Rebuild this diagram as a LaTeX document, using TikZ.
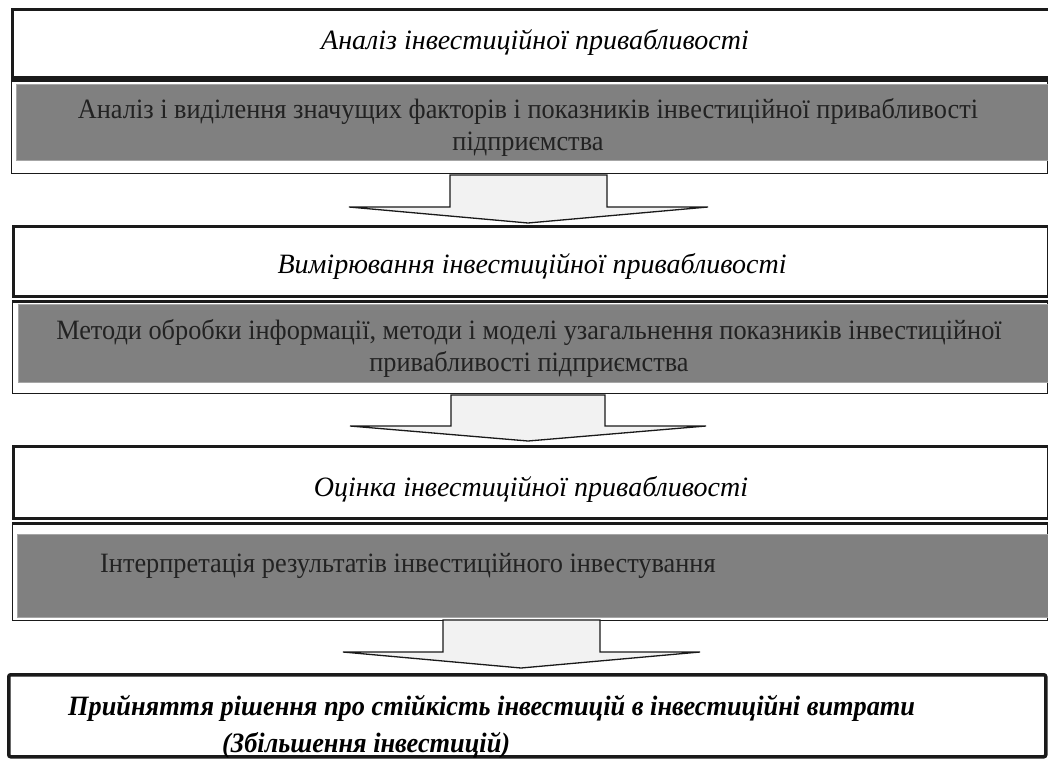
\documentclass[tikz,border=0pt]{standalone}
\usepackage{fontspec}
\setmainfont{Liberation Serif}
\newfontfamily\bodyfont[FakeStretch=0.94]{Liberation Serif}
\newfontfamily\titlefont[FakeStretch=1.0]{Liberation Serif}
\newfontfamily\finalfont[FakeStretch=0.94]{Liberation Serif}
\definecolor{frame}{HTML}{1A1A1A}
\definecolor{shade}{HTML}{808080}
\definecolor{arrowfill}{HTML}{F2F2F2}
\definecolor{bodytext}{HTML}{222222}
\tikzset{
  thickbox/.style={draw=frame, line width=3pt, fill=white},
  thinbox/.style={draw=frame, line width=1.3pt, fill=white},
  topline/.style={draw=frame, line width=3pt},
  graybox/.style={fill=shade, draw=shade!70!white, line width=0.8pt},
  blockarrow/.style={draw=frame, line width=1.3pt, fill=arrowfill, line join=miter},
  titletext/.style={font=\titlefont\itshape\fontsize{28}{32}\selectfont, text=black, inner sep=0pt},
  bodytxt/.style={font=\bodyfont\fontsize{28}{32}\selectfont, text=bodytext, inner sep=0pt, align=center},
  finaltext/.style={font=\finalfont\bfseries\itshape\fontsize{28}{37}\selectfont, text=black, inner sep=0pt, align=left},
}
\begin{document}
\begin{tikzpicture}[x=1pt,y=-1pt]
\useasboundingbox (0,0) rectangle (1048,758);
\begin{scope}
\clip (0,0) rectangle (1048,758);
% stage 1
\node[thickbox, minimum width=1038pt, minimum height=68pt, anchor=north west, inner sep=0pt] (s1) at (11,8) {};
\node[thinbox, minimum width=1036pt, minimum height=93pt, anchor=north west, inner sep=0pt] (s1b) at (11,80) {};
\draw[topline] (s1b.north west) -- (s1b.north east);
\node[graybox, minimum width=1033pt, minimum height=76pt, anchor=north west, inner sep=0pt] (g1) at (16,84) {};
% stage 2
\node[thickbox, minimum width=1035pt, minimum height=70pt, anchor=north west, inner sep=0pt] (s2) at (12,225) {};
\node[thinbox, minimum width=1035pt, minimum height=92pt, anchor=north west, inner sep=0pt] (s2b) at (12,301) {};
\draw[topline] (s2b.north west) -- (s2b.north east);
\node[graybox, minimum width=1031pt, minimum height=78pt, anchor=north west, inner sep=0pt] (g2) at (18,304) {};
% stage 3
\node[thickbox, minimum width=1035pt, minimum height=72pt, anchor=north west, inner sep=0pt] (s3) at (12,445) {};
\node[thinbox, minimum width=1035pt, minimum height=97pt, anchor=north west, inner sep=0pt] (s3b) at (12,523) {};
\draw[topline] (s3b.north west) -- (s3b.north east);
\node[graybox, minimum width=1032pt, minimum height=83pt, anchor=north west, inner sep=0pt] (g3) at (17,534) {};
% final
\node[draw=frame, line width=3.5pt, rounded corners=2pt, fill=white, minimum width=1037pt, minimum height=82pt, anchor=north west, inner sep=0pt] (s4) at (7,673) {};
\end{scope}

% texts
\node[titletext] (t1) at (535,42) {Аналіз інвестиційної привабливості};
\node[bodytxt] (b1) at (528,127) {Аналіз і виділення значущих факторів і показників інвестиційної привабливості\\підприємства};
\node[titletext] (t2) at (532,266) {Вимірювання інвестиційної привабливості};
\node[bodytxt] (b2) at (529,348) {Методи обробки інформації, методи і моделі узагальнення показників інвестиційної\\привабливості підприємства};
\node[titletext] (t3) at (531,489) {Оцінка інвестиційної привабливості};
\node[bodytxt, anchor=west] (b3) at (100,566) {Інтерпретація результатів інвестиційного інвестування};
\node[finaltext, anchor=west] (f1) at (68,708) {Прийняття рішення про стійкість інвестицій в інвестиційні витрати};
\node[finaltext, anchor=west] (f2) at (222,745) {(Збільшення інвестицій)};

% block arrows
\coordinate (a1s) at (450,175); \coordinate (a1e) at (607,175); \coordinate (a1n) at (528,223);
\draw[blockarrow] (a1s) -- (a1e) -- (607,207) -- (708,207) -- (a1n) -- (349,207) -- (450,207) -- cycle;
\coordinate (a2s) at (451,395); \coordinate (a2e) at (605,395); \coordinate (a2n) at (528,441);
\draw[blockarrow] (a2s) -- (a2e) -- (605,426) -- (706,426) -- (a2n) -- (350,426) -- (451,426) -- cycle;
\coordinate (a3s) at (443,620); \coordinate (a3e) at (600,620); \coordinate (a3n) at (521,668);
\draw[blockarrow] (a3s) -- (a3e) -- (600,652) -- (700,652) -- (a3n) -- (343,652) -- (443,652) -- cycle;
\end{tikzpicture}
\end{document}
